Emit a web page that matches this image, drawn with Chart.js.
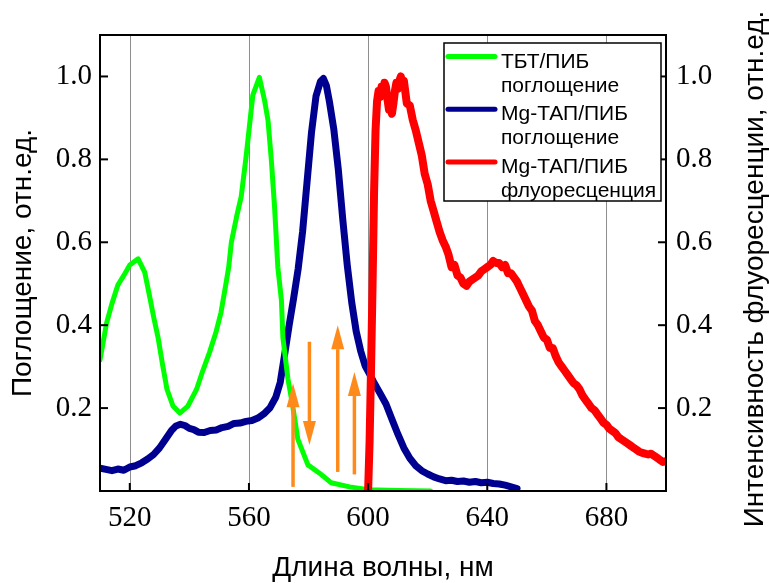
<!DOCTYPE html>
<html>
<head>
<meta charset="utf-8">
<script src="https://cdn.jsdelivr.net/npm/chart.js@4.4.0/dist/chart.umd.min.js"></script>
<style>
    body { margin: 0; background: #fff; }
    #wrap { width: 769px; height: 583px; position: relative; }
</style>
</head>
<body>
<div id="wrap"><canvas id="spectra"></canvas></div>
<script>
// ТБТ/ПИБ поглощение
const greenX = [510, 512.2, 514, 516, 518, 520, 522.8, 525, 526.7, 528, 529.5, 531, 532.5, 534.5, 536.8, 539.5, 542.4, 544.5, 546.8, 549, 550.6, 552.4, 553.2, 554.1, 555.8, 557.4, 559.1, 561.3, 563.5, 565.3, 566.4, 567.5, 568.6, 569.7, 570.9, 571.4, 573.1, 574.7, 576.4, 579.8, 583.7, 587.6, 593.8, 600, 610, 621];
const greenY = [0.316, 0.405, 0.452, 0.497, 0.52, 0.545, 0.56, 0.528, 0.468, 0.42, 0.37, 0.305, 0.245, 0.205, 0.188, 0.205, 0.245, 0.29, 0.335, 0.385, 0.43, 0.505, 0.54, 0.6, 0.66, 0.71, 0.81, 0.955, 0.998, 0.94, 0.894, 0.8, 0.685, 0.54, 0.46, 0.37, 0.27, 0.205, 0.125, 0.063, 0.043, 0.02, 0.01, 0.003, 0.001, 0.0];

// Mg-ТАП/ПИБ поглощение
const blueX = [510, 512, 514, 516, 518, 520, 522, 524, 526, 528, 530, 532, 534, 535.5, 537, 538.5, 540, 541.5, 543, 545, 547, 549, 551, 553, 555, 557, 559, 561, 563, 565, 567, 569, 570.5, 572, 573.5, 575, 576.5, 578, 579.5, 581, 582.5, 584, 585, 586, 587, 588.5, 590, 591.5, 593, 594.5, 596, 597.5, 599, 600.5, 602, 604, 606, 608, 610, 612, 614, 616, 618, 620, 622, 624, 626, 628, 630, 632, 634, 636, 638, 640, 642, 644, 646, 648, 650];
const blueY = [0.055, 0.052, 0.049, 0.053, 0.05, 0.058, 0.061, 0.068, 0.077, 0.088, 0.104, 0.125, 0.146, 0.157, 0.161, 0.158, 0.151, 0.148, 0.142, 0.141, 0.146, 0.147, 0.153, 0.156, 0.163, 0.164, 0.168, 0.17, 0.176, 0.186, 0.2, 0.226, 0.262, 0.33, 0.4, 0.465, 0.535, 0.625, 0.745, 0.865, 0.952, 0.988, 0.995, 0.978, 0.94, 0.872, 0.775, 0.655, 0.545, 0.455, 0.385, 0.338, 0.302, 0.282, 0.261, 0.236, 0.21, 0.173, 0.137, 0.104, 0.079, 0.061, 0.049, 0.041, 0.034, 0.029, 0.025, 0.026, 0.023, 0.024, 0.021, 0.023, 0.02, 0.021, 0.018, 0.017, 0.014, 0.01, 0.006];

// Mg-ТАП/ПИБ флуоресценция
const redX = [600, 600.5, 601, 601.5, 602, 602.5, 603, 603.5, 604, 604.5, 605, 605.5, 606, 606.5, 607, 607.5, 608, 608.5, 609, 609.5, 610, 610.5, 611, 611.5, 612, 613, 614, 615, 616, 617, 618, 619, 620, 621, 622, 623, 624, 625, 626, 627, 628, 629, 630, 631, 632, 633, 634, 635, 636, 637, 638, 639, 640, 641, 642, 643, 644, 645, 646, 647, 648, 649, 650, 651, 652, 653, 654, 655, 656, 657, 658, 659, 660, 661, 662, 663, 664, 665, 666, 667, 668, 669, 670, 671, 672, 673, 674, 675, 676, 677, 678, 679, 680, 681, 682, 683, 684, 685, 686, 687, 688, 689, 690, 691, 692, 693, 694, 695, 696, 697, 698, 699, 700];
const redY = [0.0, 0.12, 0.3, 0.5, 0.72, 0.87, 0.94, 0.965, 0.95, 0.975, 0.96, 0.985, 0.975, 0.945, 0.92, 0.925, 0.91, 0.935, 0.965, 0.985, 0.97, 0.99, 1.0, 0.975, 0.99, 0.935, 0.93, 0.895, 0.87, 0.84, 0.81, 0.765, 0.74, 0.7, 0.675, 0.65, 0.625, 0.605, 0.59, 0.57, 0.54, 0.545, 0.52, 0.515, 0.5, 0.495, 0.505, 0.51, 0.515, 0.52, 0.53, 0.535, 0.54, 0.545, 0.555, 0.55, 0.55, 0.54, 0.545, 0.525, 0.525, 0.515, 0.505, 0.49, 0.475, 0.46, 0.445, 0.435, 0.41, 0.4, 0.385, 0.37, 0.365, 0.345, 0.345, 0.325, 0.31, 0.3, 0.29, 0.28, 0.27, 0.26, 0.255, 0.245, 0.23, 0.22, 0.21, 0.2, 0.195, 0.185, 0.175, 0.165, 0.16, 0.15, 0.145, 0.14, 0.13, 0.125, 0.12, 0.115, 0.11, 0.105, 0.1, 0.095, 0.092, 0.09, 0.088, 0.09, 0.085, 0.08, 0.075, 0.07, 0.072];

const seriesNames = [['ТБТ/ПИБ', 'поглощение'], ['Mg-ТАП/ПИБ', 'поглощение'], ['Mg-ТАП/ПИБ', 'флуоресценция']];
const seriesColors = ['#00ff00', '#000090', '#ff0000'];

// orange arrows: wavelength, start value, tip value
const arrowX = [574.8, 580.3, 589.8, 595.4];
const arrowFrom = [0.01, 0.36, 0.046, 0.04];
const arrowTo = [0.26, 0.111, 0.4, 0.287];

const xTicksShown = [520, 560, 600, 640, 680];
const yTicksShown = [0.2, 0.4, 0.6, 0.8, 1.0];
const rightTitle = 'Интенсивность флуоресценции, отн.ед.';

function toPoints(xs, ys) {
    return xs.map((x, i) => ({ x: x, y: ys[i] }));
}

function yLabel(value) {
    const v = Math.round(value * 10) / 10;
    return yTicksShown.includes(v) ? v.toFixed(1) : null;
}

function drawArrow(ctx, x, y0, y1) {
    const dir = y1 < y0 ? -1 : 1;
    const headLen = 24;
    const half = 6.5;
    const baseY = y1 - dir * headLen;
    ctx.lineWidth = 3.5;
    ctx.beginPath();
    ctx.moveTo(x, y0);
    ctx.lineTo(x, baseY);
    ctx.stroke();
    ctx.beginPath();
    ctx.moveTo(x, y1);
    ctx.lineTo(x - half, baseY);
    ctx.lineTo(x + half, baseY);
    ctx.closePath();
    ctx.fill();
}

const decorPlugin = {
    id: 'decor',
    beforeDatasetsDraw(chart) {
        const ctx = chart.ctx;
        const area = chart.chartArea;
        const xs = chart.scales.x;
        ctx.save();
        xs.ticks.forEach(t => {
            if (t.value <= xs.min || t.value >= xs.max) return;
            const px = Math.round(xs.getPixelForValue(t.value)) + 0.5;
            const major = xTicksShown.includes(Math.round(t.value));
            ctx.beginPath();
            ctx.setLineDash(major ? [] : [3, 3]);
            ctx.strokeStyle = major ? '#8e8e8e' : '#cacaca';
            ctx.lineWidth = 1;
            ctx.moveTo(px, area.top);
            ctx.lineTo(px, area.bottom);
            ctx.stroke();
        });
        ctx.restore();
    },
    afterDatasetsDraw(chart) {
        const ctx = chart.ctx;
        const area = chart.chartArea;
        const xs = chart.scales.x;
        const ys = chart.scales.y;
        const ys2 = chart.scales.y2;
        ctx.save();

        // arrows
        ctx.strokeStyle = '#ff8a1c';
        ctx.fillStyle = '#ff8a1c';
        arrowX.forEach((x, i) => {
            drawArrow(ctx, xs.getPixelForValue(x), ys.getPixelForValue(arrowFrom[i]), ys.getPixelForValue(arrowTo[i]));
        });

        // frame
        ctx.strokeStyle = '#000';
        ctx.lineWidth = 2;
        ctx.strokeRect(area.left, area.top, area.right - area.left, area.bottom - area.top);

        // inward ticks
        ctx.lineWidth = 2;
        xs.ticks.forEach(t => {
            if (t.value <= xs.min || t.value >= xs.max) return;
            const px = xs.getPixelForValue(t.value);
            const len = xTicksShown.includes(Math.round(t.value)) ? 8 : 4;
            ctx.beginPath();
            ctx.moveTo(px, area.bottom);
            ctx.lineTo(px, area.bottom - len);
            ctx.stroke();
        });
        [ys, ys2].forEach(s => {
            s.ticks.forEach(t => {
                if (t.value <= s.min + 1e-6 || t.value >= s.max - 1e-6) return;
                const py = s.getPixelForValue(t.value);
                const len = yLabel(t.value) ? 8 : 5;
                ctx.beginPath();
                if (s.position === 'left') {
                    ctx.moveTo(area.left, py);
                    ctx.lineTo(area.left + len, py);
                } else {
                    ctx.moveTo(area.right, py);
                    ctx.lineTo(area.right - len, py);
                }
                ctx.stroke();
            });
        });

        // legend
        const bx = 444, by = 43, bw = 217, bh = 158;
        ctx.fillStyle = '#fff';
        ctx.fillRect(bx, by, bw, bh);
        ctx.strokeStyle = '#000';
        ctx.lineWidth = 1.5;
        ctx.strokeRect(bx, by, bw, bh);
        ctx.font = '21px "Liberation Sans", Arial, sans-serif';
        ctx.textBaseline = 'alphabetic';
        ctx.textAlign = 'left';
        seriesNames.forEach((lines, i) => {
            const base = 67.5 + 52.8 * i;
            ctx.strokeStyle = seriesColors[i];
            ctx.lineWidth = 5;
            ctx.lineCap = 'round';
            ctx.beginPath();
            ctx.moveTo(448, base - 11);
            ctx.lineTo(495, base - 11);
            ctx.stroke();
            ctx.fillStyle = '#000';
            ctx.fillText(lines[0], 501, base);
            ctx.fillText(lines[1], 501, base + 24);
        });

        // right axis title, reading bottom to top like the left one
        ctx.translate(ys2.right - 14, (area.top + area.bottom) / 2 + 6);
        ctx.rotate(-Math.PI / 2);
        ctx.font = '28px "Liberation Sans", Arial, sans-serif';
        ctx.textAlign = 'center';
        ctx.textBaseline = 'middle';
        ctx.fillStyle = '#000';
        ctx.fillText(rightTitle, 0, 0);
        ctx.restore();
    }
};

const tickFont = { family: 'Liberation Serif', size: 29, lineHeight: 1.2 };
const titleFont = { family: 'Liberation Sans', size: 28, lineHeight: 1 };

const ctx = document.getElementById('spectra').getContext('2d');
const chart = new Chart(ctx, {
    type: 'line',
    data: {
        datasets: [
            {
                label: seriesNames[2].join(' '),
                data: toPoints(redX, redY),
                yAxisID: 'y2',
                borderColor: seriesColors[2],
                borderWidth: 8,
                order: 0,
            },
            {
                label: seriesNames[0].join(' '),
                data: toPoints(greenX, greenY),
                yAxisID: 'y',
                borderColor: seriesColors[0],
                borderWidth: 5,
                order: 1,
            },
            {
                label: seriesNames[1].join(' '),
                data: toPoints(blueX, blueY),
                yAxisID: 'y',
                borderColor: seriesColors[1],
                borderWidth: 7,
                order: 2,
            },
        ],
    },
    options: {
        responsive: true,
        maintainAspectRatio: false,
        animation: false,
        datasets: {
            line: { pointRadius: 0, tension: 0, borderJoinStyle: 'round', borderCapStyle: 'round', fill: false },
        },
        layout: { padding: { top: 35, left: 0, right: 0, bottom: 0 } },
        plugins: {
            legend: { display: false },
            tooltip: { enabled: false },
        },
        scales: {
            x: {
                type: 'linear',
                min: 510,
                max: 700,
                grid: { display: false, drawTicks: false },
                border: { display: false },
                ticks: {
                    stepSize: 10,
                    autoSkip: false,
                    maxRotation: 0,
                    padding: 10,
                    color: '#000',
                    font: tickFont,
                    callback: v => xTicksShown.includes(Math.round(v)) ? String(Math.round(v)) : null,
                },
                title: {
                    display: true,
                    text: 'Длина волны, нм',
                    color: '#000',
                    font: titleFont,
                    padding: { top: 0, bottom: 1 },
                },
                afterFit: s => { s.height = 92; },
            },
            y: {
                position: 'left',
                min: 0,
                max: 1.1,
                grid: { display: false, drawTicks: false },
                border: { display: false },
                ticks: {
                    stepSize: 0.1,
                    autoSkip: false,
                    padding: 8,
                    color: '#000',
                    font: tickFont,
                    callback: yLabel,
                },
                title: {
                    display: true,
                    text: 'Поглощение, отн.ед.',
                    color: '#000',
                    font: titleFont,
                    padding: { top: 9, bottom: 0 },
                },
                afterFit: s => { s.width = 100; },
            },
            y2: {
                position: 'right',
                min: 0,
                max: 1.1,
                grid: { display: false, drawTicks: false },
                border: { display: false },
                ticks: {
                    stepSize: 0.1,
                    autoSkip: false,
                    padding: 10,
                    color: '#000',
                    font: tickFont,
                    callback: yLabel,
                },
                afterFit: s => { s.width = 103; },
            },
        },
    },
    plugins: [decorPlugin],
});
</script>
</body>
</html>
